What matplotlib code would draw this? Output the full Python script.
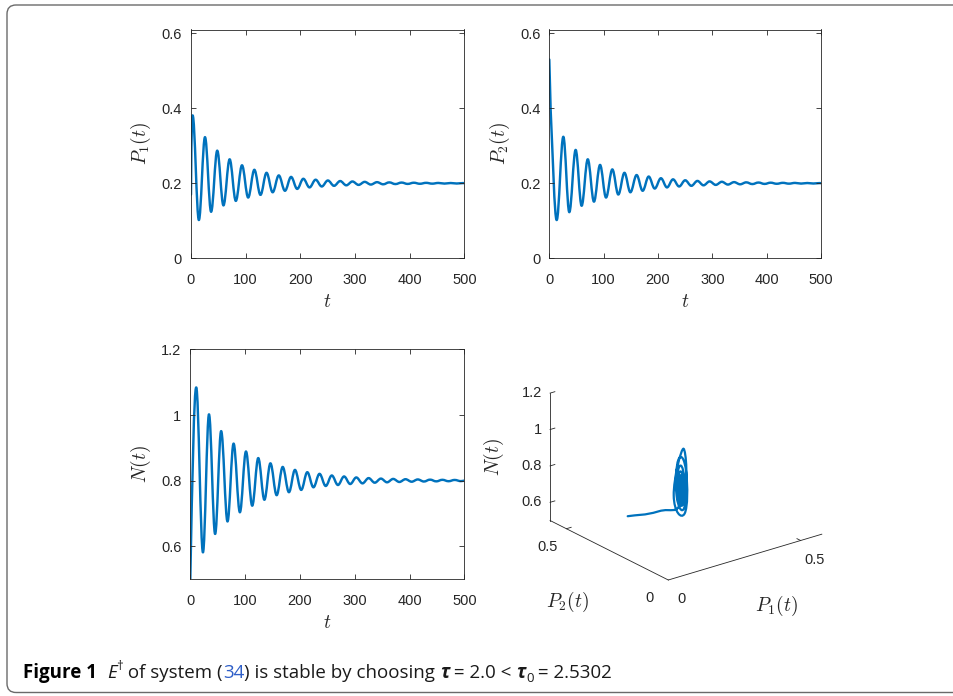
import numpy as np
import matplotlib
matplotlib.use("Agg")
import matplotlib.pyplot as plt
from matplotlib.path import Path
from matplotlib.patches import PathPatch, FancyBboxPatch
from matplotlib.ticker import FuncFormatter
from matplotlib.transforms import IdentityTransform
from mpl_toolkits.mplot3d import Axes3D  # noqa: F401

# ---------------------------------------------------------------- data
t_ticks = [0, 100, 200, 300, 400, 500]
p_ticks = [0, 0.2, 0.4, 0.6]
n_ticks = [0.6, 0.8, 1.0, 1.2]
p3_ticks = [0, 0.5]

# P1(t): initial point, initial slope, successive extrema (peak/trough), end value
p1_lead_t = [0.0]
p1_lead_v = [0.170]
p1_start_slope = 0.20
p1_ext_t = [3.0, 14.4, 25.6, 36.8, 48.0, 59.4, 70.7, 82.0, 93.3, 104.6,
            115.9, 127.1, 138.2, 149.4, 160.6, 171.9, 183.1, 194.3, 205.5, 216.8,
            228.0, 239.2, 250.4, 261.7, 272.9, 284.1, 295.3, 306.6, 317.8, 329.0,
            340.3, 351.5, 362.7, 373.9, 385.2, 396.4, 407.6, 418.8, 430.1, 441.3,
            452.5, 463.7, 475.0, 486.2, 497.4]
p1_ext_v = [0.381, 0.102, 0.323, 0.124, 0.287, 0.141, 0.264, 0.153, 0.248, 0.162,
            0.236, 0.169, 0.228, 0.176, 0.221, 0.180, 0.217, 0.185, 0.212, 0.189,
            0.2095, 0.1915, 0.2075, 0.1932, 0.2060, 0.1946, 0.2048, 0.1957, 0.2038, 0.1966,
            0.2030, 0.1973, 0.2024, 0.1979, 0.2019, 0.1983, 0.2015, 0.1987, 0.2012, 0.1990,
            0.2009, 0.1992, 0.2007, 0.1994, 0.2005]
p1_end_v = 0.2003

# P2(t)
p2_lead_t = [0.0, 2.5]
p2_lead_v = [0.530, 0.395]
p2_start_slope = -0.030
p2_ext_t = [13.6, 25.8, 36.8, 48.5, 59.5, 70.8, 82.2, 93.4, 104.4, 116.0,
            127.0, 138.3, 149.2, 160.7, 171.8, 182.9, 194.0, 205.4, 216.6, 227.7,
            238.9, 250.1, 261.4, 272.6, 283.8, 295.0, 306.3, 317.5, 328.7, 340.0,
            351.2, 362.4, 373.6, 384.9, 396.1, 407.3, 418.5, 429.8, 441.0, 452.2,
            463.4, 474.7, 485.9, 497.1]
p2_ext_v = [0.102, 0.324, 0.123, 0.289, 0.140, 0.264, 0.151, 0.249, 0.162, 0.237,
            0.170, 0.228, 0.176, 0.222, 0.180, 0.218, 0.186, 0.2135, 0.189, 0.2105,
            0.1915, 0.2080, 0.1932, 0.2063, 0.1946, 0.2050, 0.1957, 0.2040, 0.1966, 0.2031,
            0.1973, 0.2025, 0.1979, 0.2020, 0.1983, 0.2016, 0.1987, 0.2012, 0.1990, 0.2010,
            0.1992, 0.2007, 0.1994, 0.2005]
p2_end_v = 0.2002

# N(t)
n_lead_t = [0.0]
n_lead_v = [0.500]
n_start_slope = 0.085
n_ext_t = [10.8, 23.1, 34.1, 45.3, 56.3, 67.9, 79.0, 90.5, 101.6, 113.0,
           124.0, 135.2, 146.2, 157.6, 168.6, 180.0, 191.0, 202.4, 213.5, 224.7,
           235.8, 247.1, 258.2, 269.4, 280.6, 291.8, 302.9, 314.2, 325.4, 336.6,
           347.8, 359.0, 370.2, 381.5, 392.7, 403.9, 415.1, 426.3, 437.5, 448.8,
           460.0, 471.2, 482.4, 493.6]
n_ext_v = [1.084, 0.582, 1.002, 0.638, 0.951, 0.676, 0.913, 0.704, 0.889, 0.724,
           0.869, 0.742, 0.853, 0.756, 0.842, 0.765, 0.833, 0.772, 0.826, 0.780,
           0.821, 0.784, 0.816, 0.787, 0.813, 0.790, 0.810, 0.792, 0.808, 0.794,
           0.8065, 0.7952, 0.8055, 0.7962, 0.8046, 0.7970, 0.8039, 0.7976, 0.8033, 0.7981,
           0.8028, 0.7985, 0.8024, 0.7988]
n_end_v = 0.8005

# phase-space trajectory (P1, P2, N)
traj_p1 = [0.170, 0.240, 0.300, 0.154, 0.126, 0.281, 0.301, 0.160, 0.143, 0.258, 0.270,
           0.168, 0.154, 0.240, 0.253, 0.176, 0.162, 0.227, 0.240, 0.181, 0.169,
           0.220, 0.230, 0.184, 0.174, 0.215, 0.223, 0.1875, 0.180, 0.211, 0.217,
           0.189, 0.183, 0.209, 0.214, 0.192, 0.1875, 0.206, 0.210, 0.194, 0.191,
           0.205, 0.208, 0.1955, 0.193, 0.204, 0.206, 0.196, 0.194, 0.203]
traj_p2 = [0.420, 0.360, 0.320, 0.125, 0.137, 0.285, 0.303, 0.158, 0.145, 0.258, 0.272,
           0.166, 0.155, 0.240, 0.254, 0.175, 0.163, 0.227, 0.241, 0.180, 0.170,
           0.220, 0.231, 0.183, 0.175, 0.215, 0.224, 0.187, 0.181, 0.211, 0.218,
           0.189, 0.184, 0.209, 0.215, 0.192, 0.188, 0.206, 0.211, 0.194, 0.191,
           0.205, 0.209, 0.1955, 0.193, 0.204, 0.2065, 0.196, 0.194, 0.203]
traj_n = [0.540, 0.570, 0.630, 1.084, 0.833, 0.582, 0.791, 1.003, 0.820, 0.636, 0.794,
          0.952, 0.814, 0.676, 0.795, 0.913, 0.809, 0.704, 0.797, 0.889, 0.807,
          0.724, 0.797, 0.869, 0.806, 0.742, 0.798, 0.854, 0.805, 0.756, 0.799,
          0.842, 0.804, 0.765, 0.799, 0.833, 0.803, 0.772, 0.799, 0.826, 0.803,
          0.780, 0.800, 0.821, 0.802, 0.784, 0.800, 0.816, 0.801, 0.787]

# ---------------------------------------------------------------- style
W, H = 954, 696
LINE_C = "#0072BD"
AX_C = "#262626"
plt.rcParams.update({
    "font.family": ["Liberation Sans", "DejaVu Sans"],
    "mathtext.fontset": "cm",
    "axes.linewidth": 0.6,
})
fig = plt.figure(figsize=(W / 100, H / 100), dpi=100)

H_BEZ = 0.363  # handle length giving a sine-like arc between extrema


def osc_path(lead_t, lead_v, slope0, ext_t, ext_v, end_t, end_v):
    verts = [(lead_t[0], lead_v[0])]
    codes = [Path.MOVETO]
    for t, v in zip(lead_t[1:], lead_v[1:]):
        verts.append((t, v))
        codes.append(Path.LINETO)
    t0, v0 = lead_t[-1], lead_v[-1]
    d = ext_t[0] - t0
    verts += [(t0 + d / 3, v0 + slope0 * d / 3), (ext_t[0] - H_BEZ * d, ext_v[0]),
              (ext_t[0], ext_v[0])]
    codes += [Path.CURVE4] * 3
    for i in range(len(ext_t) - 1):
        ta, va, tb, vb = ext_t[i], ext_v[i], ext_t[i + 1], ext_v[i + 1]
        d = tb - ta
        verts += [(ta + H_BEZ * d, va), (tb - H_BEZ * d, vb), (tb, vb)]
        codes += [Path.CURVE4] * 3
    ta, va = ext_t[-1], ext_v[-1]
    d = end_t - ta
    verts += [(ta + d / 2, va), (end_t, end_v), (end_t, end_v)]
    codes += [Path.CURVE4] * 3
    return Path(verts, codes)


def px_rect(left, top, right, bottom):
    return [left / W, 1 - bottom / H, (right - left) / W, (bottom - top) / H]


fmt = FuncFormatter(lambda v, p: f"{v:g}")


def style2d(ax, ylim, yticks, ylabel):
    ax.set_xlim(0, t_ticks[-1])
    ax.set_ylim(*ylim)
    ax.set_xticks(t_ticks)
    ax.set_yticks(yticks)
    ax.xaxis.set_major_formatter(fmt)
    ax.yaxis.set_major_formatter(fmt)
    ax.tick_params(direction="in", length=3.5, width=0.6, top=True, right=True,
                   labelsize=10.5, colors=AX_C)
    ax.tick_params(axis="x", pad=10.5)
    ax.tick_params(axis="y", pad=6.5)
    for s in ax.spines.values():
        s.set_color(AX_C)
        s.set_linewidth(0.6)
    ax.set_xlabel("$t$", fontsize=14, color=AX_C, labelpad=5)
    ax.set_ylabel(ylabel, fontsize=14, color=AX_C, labelpad=6)


def add_curve(ax, path):
    ax.add_patch(PathPatch(path, fill=False, edgecolor=LINE_C, lw=1.75,
                           joinstyle="round", capstyle="round"))


ax1 = fig.add_axes(px_rect(191, 29.5, 464.3, 258.3))
add_curve(ax1, osc_path(p1_lead_t, p1_lead_v, p1_start_slope, p1_ext_t, p1_ext_v,
                        t_ticks[-1], p1_end_v))
style2d(ax1, (0, 0.61), p_ticks, "$P_1(t)$")

ax2 = fig.add_axes(px_rect(549.3, 29.5, 821, 258.3))
add_curve(ax2, osc_path(p2_lead_t, p2_lead_v, p2_start_slope, p2_ext_t, p2_ext_v,
                        t_ticks[-1], p2_end_v))
style2d(ax2, (0, 0.61), p_ticks, "$P_2(t)$")

axn = fig.add_axes(px_rect(190.3, 349.3, 464.3, 579.3))
add_curve(axn, osc_path(n_lead_t, n_lead_v, n_start_slope, n_ext_t, n_ext_v,
                        t_ticks[-1], n_end_v))
style2d(axn, (0.5, 1.2), n_ticks, "$N(t)$")

# ---------------------------------------------------------------- 3-D panel
CR_GAIN = np.pi / 2  # tangent gain for nodes a quarter period apart


class Curve3D(PathPatch):
    """Smooth curve through 3-D nodes, projected with the axes' own matrix."""

    def __init__(self, pts3d, **kw):
        self._pts3d = np.asarray(pts3d, float)
        n = len(self._pts3d)
        self._codes = [Path.MOVETO] + [Path.CURVE4] * (3 * (n - 1))
        super().__init__(Path(np.zeros((len(self._codes), 2)), self._codes), **kw)

    def do_3d_projection(self, renderer=None):
        P = np.column_stack([self._pts3d, np.ones(len(self._pts3d))])
        h = P @ self.axes.M.T
        xy = h[:, :2] / h[:, 3:4]
        T = np.zeros_like(xy)
        T[1:-1] = (xy[2:] - xy[:-2]) / 2 * CR_GAIN
        T[0] = xy[1] - xy[0]
        T[-1] = xy[-1] - xy[-2]
        verts = [xy[0]]
        for i in range(len(xy) - 1):
            verts += [xy[i] + T[i] / 3, xy[i + 1] - T[i + 1] / 3, xy[i + 1]]
        self._path = Path(np.array(verts), self._codes)
        return float(np.min(h[:, 2] / h[:, 3]))


P_LIM = 0.58
N_LIM = (0.5, 1.2)
ax3 = fig.add_axes(px_rect(526, 327, 846, 647), projection="3d")
ax3.set_proj_type("ortho")
ax3.view_init(elev=22.8, azim=-127.6)
ax3.set_xlim(0, P_LIM)
ax3.set_ylim(0, P_LIM)
ax3.set_zlim(*N_LIM)
ax3.set_axis_off()
ax3.patch.set_alpha(0)

# axis lines and ticks (MATLAB-like: only three axis lines)
lk = dict(color=AX_C, lw=0.6)
ax3.plot([0, P_LIM], [0, 0], [N_LIM[0], N_LIM[0]], **lk)
ax3.plot([0, 0], [0, P_LIM], [N_LIM[0], N_LIM[0]], **lk)
ax3.plot([0, 0], [P_LIM, P_LIM], list(N_LIM), **lk)
tl = 0.018
for v in p3_ticks[1:]:
    ax3.plot([v, v], [0, tl], [N_LIM[0]] * 2, **lk)
    ax3.plot([0, tl], [v, v], [N_LIM[0]] * 2, **lk)
for z in n_ticks:
    ax3.plot([0, tl], [P_LIM, P_LIM], [z, z], **lk)

traj = Curve3D(np.column_stack([traj_p1, traj_p2, traj_n]), fill=False,
               edgecolor=LINE_C, lw=1.6, joinstyle="round", capstyle="round")
ax3.add_artist(traj)

# calibrate the projected box onto the reference placement
corners = np.array([[0, 0, N_LIM[0]], [P_LIM, 0, N_LIM[0]],
                    [0, P_LIM, N_LIM[0]], [0, P_LIM, N_LIM[1]]], float)
tgt = np.array([[668.3, H - 580.0], [821.7, H - 534.0],
                [550.0, H - 520.7], [550.0, H - 393.3]])


def proj_disp(ax, pts):
    P = np.column_stack([np.asarray(pts, float), np.ones(len(pts))])
    h = P @ ax.get_proj().T
    return ax.transData.transform(h[:, :2] / h[:, 3:4])


zoom, za = 1.0, 0.72
for _ in range(6):
    ax3.set_box_aspect((1, 1, za), zoom=zoom)
    fig.canvas.draw()
    d = proj_disp(ax3, corners)
    span = d[1, 0] - d[2, 0]
    vert = d[3, 1] - d[2, 1]
    tspan = tgt[1, 0] - tgt[2, 0]
    tvert = tgt[3, 1] - tgt[2, 1]
    pos = ax3.get_position(original=True)
    dx, dy = (tgt[0] - d[0])
    ax3.set_position([pos.x0 + dx / W, pos.y0 + dy / H, pos.width, pos.height])
    zoom *= tspan / span
    za *= (tvert / tspan) / (vert / span)
ax3.set_box_aspect((1, 1, za), zoom=zoom)
fig.canvas.draw()
d = proj_disp(ax3, corners)
pos = ax3.get_position(original=True)
dx, dy = (tgt[0] - d[0])
ax3.set_position([pos.x0 + dx / W, pos.y0 + dy / H, pos.width, pos.height])
fig.canvas.draw()

# 3-D tick labels placed at the projected tick positions
tk = dict(fontsize=10.5, color=AX_C, va="center")
xa = proj_disp(ax3, [[v, 0, N_LIM[0]] for v in p3_ticks])
ya = proj_disp(ax3, [[0, v, N_LIM[0]] for v in p3_ticks])
za_pts = proj_disp(ax3, [[0, P_LIM, z] for z in n_ticks])
for v, (px, py) in zip(p3_ticks, xa):
    fig.text((px + 13.5) / W, (py - 19) / H, f"{v:g}", ha="center", **tk)
for v, (px, py) in zip(p3_ticks, ya):
    fig.text((px - 18.5) / W, (py - 18) / H, f"{v:g}", ha="center", **tk)
for z, (px, py) in zip(n_ticks, za_pts):
    fig.text((px - 8) / W, py / H, f"{z:g}", ha="right", **tk)

lab = dict(fontsize=14, color=AX_C, ha="center", va="center")
fig.text(776.7 / W, 1 - 605.7 / H, "$P_1(t)$", **lab)
fig.text(567.3 / W, 1 - 602.3 / H, "$P_2(t)$", **lab)
fig.text(494.3 / W, 1 - 456.7 / H, "$N(t)$", rotation=90, **lab)

# ---------------------------------------------------------------- frame + caption
frame = FancyBboxPatch((7, 3.5), 1000, 687.5, boxstyle="round,pad=0,rounding_size=9",
                       transform=IdentityTransform(), fill=False, edgecolor="#6a6a6a",
                       lw=1.0)
fig.add_artist(frame)

CAP_FONT = ["Open Sans", "DejaVu Sans"]
TXT_C = "#1a1a1a"
cap_pieces = [
    ("Figure 1", "bold", "normal", 1.0, 0.0, "#000000"),
    ("  ", "normal", "normal", 1.0, 0.0, TXT_C),
    ("E", "normal", "italic", 1.0, 0.0, TXT_C),
    ("\u2020", "normal", "normal", 0.70, 0.45, TXT_C),
    (" of system (", "normal", "normal", 1.0, 0.0, TXT_C),
    ("34", "normal", "normal", 1.0, 0.0, "#2f5fc8"),
    (") is stable by choosing ", "normal", "normal", 1.0, 0.0, TXT_C),
    ("\u03c4", "bold", "italic", 1.0, 0.0, TXT_C),
    (" = 2.0 < ", "normal", "normal", 1.0, 0.0, TXT_C),
    ("\u03c4", "bold", "italic", 1.0, 0.0, TXT_C),
    ("0", "normal", "normal", 0.70, -0.22, TXT_C),
    (" = 2.5302", "normal", "normal", 1.0, 0.0, TXT_C),
]
renderer = fig.canvas.get_renderer()


def piece_width(s, size, weight, style):
    a = fig.text(0.5, 0.5, "|" + s + "|", fontsize=size, family=CAP_FONT, weight=weight,
                 style=style)
    b = fig.text(0.5, 0.5, "||", fontsize=size, family=CAP_FONT, weight=weight, style=style)
    w = a.get_window_extent(renderer).width - b.get_window_extent(renderer).width
    a.remove()
    b.remove()
    return w


def caption_width(size):
    return sum(piece_width(s, size * f, wt, st) for s, wt, st, f, _, _ in cap_pieces)


CAP_X0, CAP_X1, CAP_BASE = 23.3, 612.0, H - 678.0
size = 12.0
size *= (CAP_X1 - CAP_X0) / caption_width(size)
x = CAP_X0
for s, wt, st, f, dyf, col in cap_pieces:
    fs = size * f
    fig.text(x / W, (CAP_BASE + dyf * size * 100 / 72) / H, s, fontsize=fs, family=CAP_FONT,
             weight=wt, style=st, color=col, ha="left", va="baseline")
    x += piece_width(s, fs, wt, st)

fig.savefig("out.png", dpi=100)
